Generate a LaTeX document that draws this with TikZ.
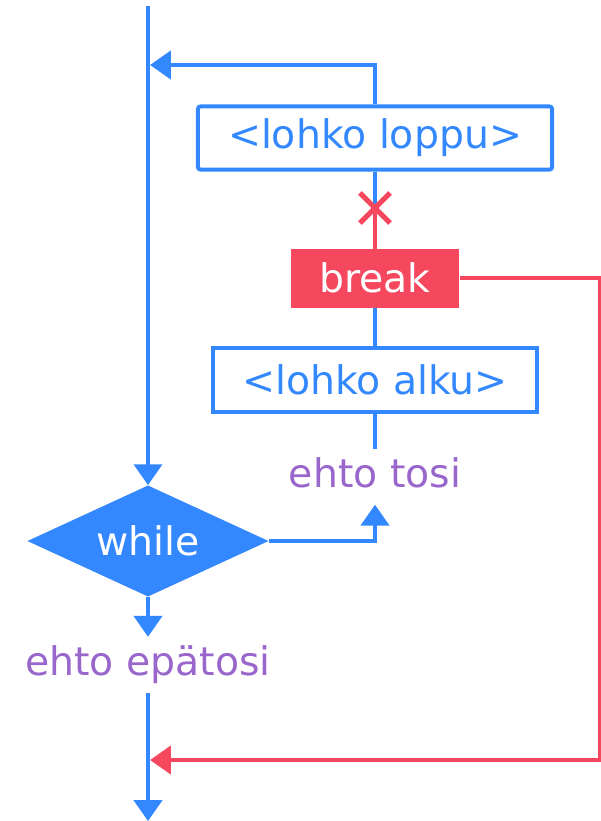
\documentclass[tikz,border=0pt]{standalone}
\usepackage{fontspec}
\setmainfont{DejaVu Sans}
\usetikzlibrary{shapes,arrows.meta,positioning,calc}
\definecolor{flowblue}{RGB}{51,136,255}
\definecolor{breakred}{RGB}{245,72,94}
\definecolor{condpurple}{RGB}{153,102,204}

\begin{document}
\begin{tikzpicture}[
    x=0.025cm, y=-0.025cm,
    font=\fontsize{28}{34}\selectfont,
    block/.style={rectangle, draw=flowblue, line width=0.1cm, text=flowblue, minimum height=1.6cm, inner sep=0pt},
    breakbox/.style={rectangle, fill=breakred, text=white, minimum width=4.22cm, minimum height=1.47cm, inner sep=0pt},
    decision/.style={diamond, aspect=2.2, fill=flowblue, text=white, minimum width=6.03cm, minimum height=2.78cm, inner sep=0pt},
    cond/.style={text=condpurple, text height=21.3pt, text depth=6.7pt, inner sep=0.2cm, anchor=base},
    line/.style={draw=flowblue, line width=0.1cm},
    flow/.style={line, -{Triangle[width=0.7cm, length=0.52cm]}},
    jump/.style={draw=breakred, line width=0.1cm, -{Triangle[width=0.7cm, length=0.52cm]}}
]
    \useasboundingbox (0,0) rectangle (600,821);

    % loop body, drawn from the end back to the start
    \node[block, minimum width=8.85cm, minimum height=1.575cm, rounded corners=0.06cm] (loppu) at (375,138) {<lohko loppu>};
    \node[breakbox, below=1.925cm of loppu] (brk) {break};
    \node[block, minimum width=8.12cm, below=0.95cm of brk] (alku) {<lohko alku>};
    \node[cond] (tosi) at (375,487) {ehto tosi};

    \node[decision] (while) at (148,541) {while};
    \node[cond] (epatosi) at (148,675) {ehto epätosi};

    \coordinate (top) at (148,6);
    \coordinate (bottom) at (148,821);
    \coordinate (back) at (148,65);
    \coordinate (exit) at (148,760);
    \coordinate (edge) at (600,760);
    \coordinate (cut) at (375,208);

    % main line
    \draw[flow] (top) -- (while.north);
    \draw[flow] (while.south) -- (epatosi.north);
    \draw[flow] (epatosi.south) -- (bottom);

    % loop
    \draw[flow] (while.east) -| (tosi.south);
    \path[line] (tosi.north) -- (alku.south);
    \path[line] (alku.north) -- (brk.south);
    \path[line] (loppu.south) -- (cut);
    \draw[draw=breakred, line width=0.1cm] (cut) -- (brk.north);
    \draw[flow, shorten >=0.05cm] (loppu.north) |- (back);

    % break jumps past the loop
    \draw[jump, shorten >=0.05cm] (brk.east) -| (edge) -- (exit);

    \node[cross out, draw=breakred, line width=0.13cm, minimum size=0.62cm, inner sep=0pt] (xmark) at (cut) {};
\end{tikzpicture}
\end{document}
